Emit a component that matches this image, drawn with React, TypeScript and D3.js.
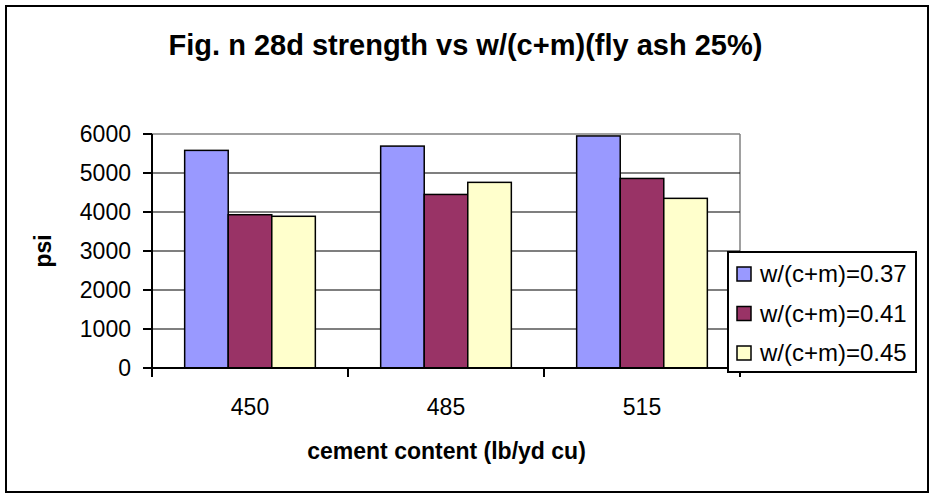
import React from "react";
import * as d3 from "d3";

const categories = ["450", "485", "515"];
const seriesNames = ["w/(c+m)=0.37", "w/(c+m)=0.41", "w/(c+m)=0.45"];
const series037 = [5580, 5690, 5950];
const series041 = [3930, 4450, 4860];
const series045 = [3890, 4760, 4350];
const seriesColors = ["#9999FF", "#993366", "#FFFFCC"];
const yTicks = [0, 1000, 2000, 3000, 4000, 5000, 6000];

const W = 931;
const H = 494;
const plot = { left: 152, right: 740, top: 134, bottom: 368 };
const FONT = "Arial, 'Liberation Sans', sans-serif";

export default function App() {
  const allSeries = [series037, series041, series045];
  const x0 = d3
    .scaleBand<string>()
    .domain(categories)
    .range([plot.left, plot.right])
    .paddingInner(0)
    .paddingOuter(0);
  const bw = x0.bandwidth();
  const barW = bw / 4.5;
  const y = d3.scaleLinear().domain([0, 6000]).range([plot.bottom, plot.top]);

  return (
    <svg
      width={W}
      height={H}
      style={{ position: "absolute", left: 0, top: 0, background: "#fff" }}
      fontFamily={FONT}
    >
      <rect x={0} y={0} width={W} height={H} fill="#fff" />
      <rect x={6} y={6} width={922} height={486} fill="#fff" stroke="#000" strokeWidth={2} />

      <text x={465.5} y={55} textAnchor="middle" fontSize={29} fontWeight="bold" fill="#000">
        Fig. n 28d strength vs w/(c+m)(fly ash 25%)
      </text>

      {/* plot area border (gray) */}
      <line x1={plot.left} x2={plot.right} y1={plot.top} y2={plot.top} stroke="#808080" strokeWidth={1.5} />
      <line x1={plot.right} x2={plot.right} y1={plot.top} y2={plot.bottom} stroke="#808080" strokeWidth={1.5} />

      {/* gridlines */}
      {yTicks
        .filter((t) => t > 0 && t < 6000)
        .map((t) => (
          <line key={t} x1={plot.left} x2={plot.right} y1={y(t)} y2={y(t)} stroke="#000" strokeWidth={1.2} />
        ))}

      {/* bars */}
      {categories.map((c, ci) =>
        allSeries.map((s, si) => {
          const bx = (x0(c) as number) + barW * 0.75 + si * barW;
          return (
            <rect
              key={c + si}
              x={bx}
              y={y(s[ci])}
              width={barW}
              height={y(0) - y(s[ci])}
              fill={seriesColors[si]}
              stroke="#000"
              strokeWidth={1.5}
            />
          );
        })
      )}

      {/* y axis */}
      <line x1={plot.left} x2={plot.left} y1={plot.top} y2={plot.bottom + 1} stroke="#000" strokeWidth={2} />
      {yTicks.map((t) => (
        <g key={t}>
          <line x1={143} x2={plot.left} y1={y(t)} y2={y(t)} stroke="#000" strokeWidth={2} />
          <text x={131} y={y(t)} dy="0.35em" textAnchor="end" fontSize={23} fill="#000">
            {t}
          </text>
        </g>
      ))}

      {/* x axis */}
      <line x1={plot.left - 1} x2={plot.right} y1={plot.bottom} y2={plot.bottom} stroke="#000" strokeWidth={2} />
      {[...categories.map((c) => x0(c) as number), plot.right].map((v, i) => (
        <line key={i} x1={v} x2={v} y1={plot.bottom} y2={plot.bottom + 9} stroke="#000" strokeWidth={2} />
      ))}
      {categories.map((c) => (
        <text
          key={c}
          x={(x0(c) as number) + bw / 2}
          y={407}
          dy="0.35em"
          textAnchor="middle"
          fontSize={23}
          fill="#000"
        >
          {c}
        </text>
      ))}

      <text x={446.5} y={459} textAnchor="middle" fontSize={23} fontWeight="bold" fill="#000">
        cement content (lb/yd cu)
      </text>
      <text
        transform="translate(51,251) rotate(-90)"
        textAnchor="middle"
        fontSize={23}
        fontWeight="bold"
        fill="#000"
      >
        psi
      </text>

      {/* legend */}
      <rect x={728} y={252} width={188} height={120} fill="#fff" stroke="#000" strokeWidth={2} />
      {seriesNames.map((n, i) => {
        const cy = 274 + i * 39.5;
        return (
          <g key={n}>
            <rect x={737} y={cy - 7} width={14} height={14} fill={seriesColors[i]} stroke="#000" strokeWidth={1.5} />
            <text x={760} y={cy} dy="0.35em" fontSize={24} fill="#000">
              {n}
            </text>
          </g>
        );
      })}
    </svg>
  );
}
